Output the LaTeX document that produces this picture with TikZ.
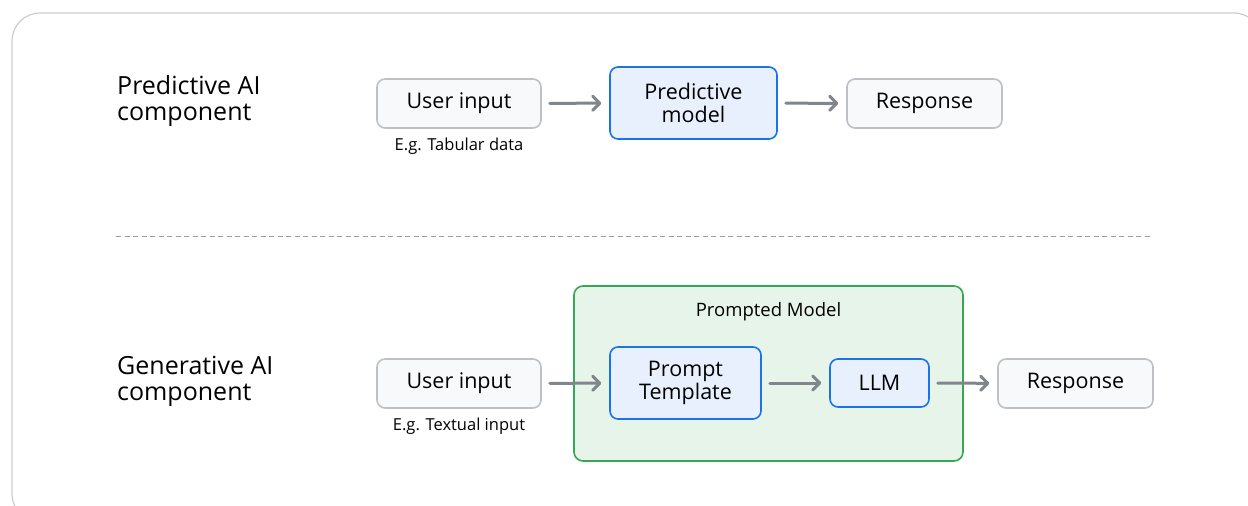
\documentclass[tikz,border=0pt]{standalone}
\usepackage{fontspec}
\setmainfont{Open Sans}[Ligatures=NoCommon]
\usetikzlibrary{arrows.meta,shapes,positioning}

\definecolor{framegray}{HTML}{C9CCD0}
\definecolor{boxgray}{HTML}{BDC1C6}
\definecolor{boxfill}{HTML}{F8F9FA}
\definecolor{gblue}{HTML}{1A73E8}
\definecolor{gbluefill}{HTML}{E8F0FE}
\definecolor{ggreen}{HTML}{34A853}
\definecolor{ggreenfill}{HTML}{E6F4EA}
\definecolor{arrowgray}{HTML}{80868B}

\begin{document}
\begin{tikzpicture}[x=1pt,y=-1pt]
	\tikzset{BoxStyle/.style = {
			shape=rectangle, rounded corners=8pt,
			draw=boxgray, line width=1.6pt, fill=boxfill,
			inner sep=0pt, align=center,
			font=\fontsize{21.5}{23.5}\selectfont
	}}
	\tikzset{ModelStyle/.style = {
			BoxStyle, draw=gblue, fill=gbluefill
	}}
	\tikzset{SideStyle/.style = {
			anchor=west, align=left, inner sep=0pt,
			font=\fontsize{25}{26}\selectfont
	}}
	\tikzset{NoteStyle/.style = {
			inner sep=0pt, font=\fontsize{16.5}{18}\selectfont
	}}
	\tikzset{ArrowStyle/.style = {
			draw=arrowgray, line width=3pt, line cap=round,
			-{Straight Barb[length=7pt,width=14pt,line cap=round,line join=round]},
			shorten <=8pt, shorten >=8pt
	}}
	\useasboundingbox (0,0) rectangle (1248,506);
	\clip (0,0) rectangle (1248,506);
	\draw[framegray, line width=1.2pt, rounded corners=28pt] (12,13) rectangle (1262,522);

	% predictive part
	\node[SideStyle] (plabel) at (117,101) {Predictive AI\\component};
	\node[BoxStyle, minimum width=164pt, minimum height=49pt] (in1) at (459,103.5) {User input};
	\node[NoteStyle, below=9pt of in1] (note1) {E.g. Tabular data};
	\node[ModelStyle, minimum width=167pt, minimum height=72pt] (pm) at (693.5,103) {Predictive\\model};
	\node[BoxStyle, minimum width=155pt, minimum height=49pt] (resp1) at (924.5,103.5) {Response};

	\path[ArrowStyle] (in1) -- (pm);
	\path[ArrowStyle] (pm) -- (resp1);

	\draw[arrowgray!80, line width=1pt, dash pattern=on 5pt off 3.5pt] (116,236) -- (1153,236);

	% generative part
	\node[draw=ggreen, fill=ggreenfill, line width=1.6pt, rounded corners=9pt,
		minimum width=389pt, minimum height=175pt, inner sep=0pt] (pmodel) at (768.5,373.5) {};
	\node[NoteStyle, font=\fontsize{18.5}{20}\selectfont] (pmtitle) at (768.5,312) {Prompted Model};

	\node[SideStyle] (glabel) at (117,381) {Generative AI\\component};
	\node[BoxStyle, minimum width=164pt, minimum height=49pt] (in2) at (459,383.5) {User input};
	\node[NoteStyle, below=9pt of in2] (note2) {E.g. Textual input};
	\node[ModelStyle, minimum width=151pt, minimum height=72pt] (pt) at (685.5,383) {Prompt\\Template};
	\node[ModelStyle, minimum width=99pt, minimum height=48pt] (llm) at (879.5,383) {LLM};
	\node[BoxStyle, minimum width=155pt, minimum height=49pt] (resp2) at (1075.5,383.5) {Response};

	\path[ArrowStyle] (in2) -- (pt);
	\path[ArrowStyle] (pt) -- (llm);
	\path[ArrowStyle] (llm) -- (resp2);
\end{tikzpicture}
\end{document}
